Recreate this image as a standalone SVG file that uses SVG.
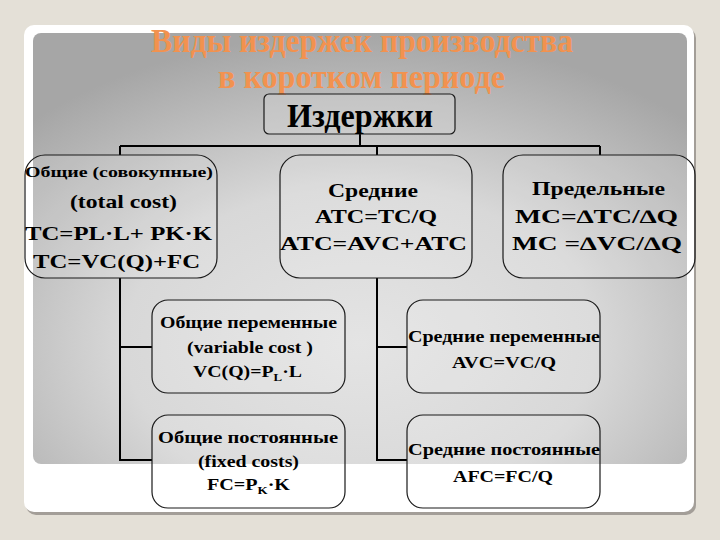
<svg xmlns="http://www.w3.org/2000/svg" width="720" height="540" viewBox="0 0 720 540">
<defs>
<radialGradient id="pg" cx="0.5" cy="0.72" r="0.72" fx="0.5" fy="0.72">
<stop offset="0" stop-color="#e4e4e4"/>
<stop offset="0.5" stop-color="#d8d8d8"/>
<stop offset="1" stop-color="#a6a6a6"/>
</radialGradient>
<style>
.t{font-family:"Liberation Serif","Times New Roman",serif;font-weight:bold;fill:#000}
.b{fill:#ffffff;fill-opacity:0.12;stroke:#1a1a1a;stroke-width:1.2}
.c{stroke:#000;stroke-width:2;fill:none}
.title{font-family:"Liberation Serif","Times New Roman",serif;font-weight:bold;fill:#F2924F;font-size:33px}
</style>
</defs>
<rect width="720" height="540" fill="#E4E0D7"/>
<rect x="26" y="28" width="670" height="487" rx="10" fill="#a39e98"/>
<rect x="24" y="25" width="670" height="487" rx="10" fill="#ffffff"/>
<rect x="33" y="33" width="654" height="431" rx="8" fill="url(#pg)"/>

<g id="title">
<text class="title" x="151" y="52" textLength="422" lengthAdjust="spacingAndGlyphs">Виды издержек производства</text>
<text class="title" x="218" y="88" textLength="287" lengthAdjust="spacingAndGlyphs">в коротком периоде</text>
</g>

<g id="connectors">
<path class="c" d="M360 134 V146 M120 146 H600 M120 146 V155 M377 146 V155 M600 146 V155"/>
<path class="c" d="M120 278 V460 H152 M120 347 H152"/>
<path class="c" d="M377 278 V460 H407 M377 347 H407"/>
</g>

<g id="root">
<rect x="264" y="94" width="191" height="40" rx="5" fill="#d4d4d4" fill-opacity="0.4" stroke="#1a1a1a" stroke-width="1.2"/>
<text class="t" x="287" y="127" font-size="33" textLength="146" lengthAdjust="spacingAndGlyphs">Издержки</text>
</g>

<g id="total">
<rect class="b" x="25" y="155" width="192" height="123" rx="20"/>
<text class="t" x="25" y="177" font-size="15" textLength="188" lengthAdjust="spacingAndGlyphs">Общие  (совокупные)</text>
<text class="t" x="70" y="208" font-size="19" textLength="107" lengthAdjust="spacingAndGlyphs">(total cost)</text>
<text class="t" x="25" y="240" font-size="19" textLength="187" lengthAdjust="spacingAndGlyphs">TC=PL·L+ PK·K</text>
<text class="t" x="33" y="268" font-size="19" textLength="167" lengthAdjust="spacingAndGlyphs">TC=VC(Q)+FC</text>
</g>

<g id="average">
<rect class="b" x="280" y="155" width="192" height="123" rx="20"/>
<text class="t" x="328" y="197" font-size="19" textLength="90" lengthAdjust="spacingAndGlyphs">Средние</text>
<text class="t" x="315" y="223" font-size="19" textLength="122" lengthAdjust="spacingAndGlyphs">ATC=TC/Q</text>
<text class="t" x="280" y="250" font-size="19" textLength="187" lengthAdjust="spacingAndGlyphs">ATC=AVC+ATC</text>
</g>

<g id="marginal">
<rect class="b" x="503" y="155" width="192" height="123" rx="20"/>
<text class="t" x="532" y="195" font-size="19" textLength="133" lengthAdjust="spacingAndGlyphs">Предельные</text>
<text class="t" x="515" y="223" font-size="19" textLength="163" lengthAdjust="spacingAndGlyphs">MC=∆TC/∆Q</text>
<text class="t" x="512" y="250" font-size="19" textLength="170" lengthAdjust="spacingAndGlyphs">MC =∆VC/∆Q</text>
</g>

<g id="vc">
<rect class="b" x="152" y="300" width="193" height="93" rx="16"/>
<text class="t" x="160" y="328" font-size="17" textLength="177" lengthAdjust="spacingAndGlyphs">Общие переменные</text>
<text class="t" x="187" y="353" font-size="17" textLength="126" lengthAdjust="spacingAndGlyphs">(variable cost )</text>
<text class="t" x="193" y="377" font-size="17" textLength="109" lengthAdjust="spacingAndGlyphs">VC(Q)=P<tspan font-size="11" dy="4">L</tspan><tspan dy="-4">·L</tspan></text>
</g>

<g id="fc">
<rect class="b" x="152" y="415" width="193" height="93" rx="16"/>
<text class="t" x="158" y="443" font-size="17" textLength="180" lengthAdjust="spacingAndGlyphs">Общие  постоянные</text>
<text class="t" x="198" y="467" font-size="17" textLength="101" lengthAdjust="spacingAndGlyphs">(fixed costs)</text>
<text class="t" x="207" y="490" font-size="17" textLength="83" lengthAdjust="spacingAndGlyphs">FC=P<tspan font-size="11" dy="4">K</tspan><tspan dy="-4">·K</tspan></text>
</g>

<g id="avc">
<rect class="b" x="407" y="300" width="193" height="93" rx="16"/>
<text class="t" x="408" y="342" font-size="17" textLength="192" lengthAdjust="spacingAndGlyphs">Средние переменные</text>
<text class="t" x="452" y="368" font-size="17" textLength="104" lengthAdjust="spacingAndGlyphs">AVC=VC/Q</text>
</g>

<g id="afc">
<rect class="b" x="407" y="415" width="193" height="93" rx="16"/>
<text class="t" x="408" y="455" font-size="17" textLength="192" lengthAdjust="spacingAndGlyphs">Средние постоянные</text>
<text class="t" x="453" y="482" font-size="17" textLength="100" lengthAdjust="spacingAndGlyphs">AFC=FC/Q</text>
</g>
</svg>
